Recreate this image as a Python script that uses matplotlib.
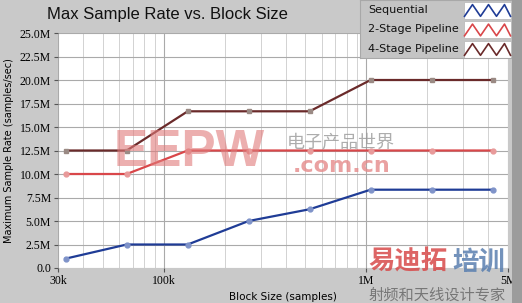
import matplotlib
matplotlib.use('Agg')
import matplotlib.pyplot as plt
from matplotlib.ticker import FixedLocator, FixedFormatter, NullFormatter
from matplotlib.patches import Rectangle

# block sizes (samples) and max rates (samples/sec)
block_sizes = [32768, 65536, 131072, 262144, 524288, 1048576, 2097152, 4194304]
sequential = [1.0e6, 2.5e6, 2.5e6, 5.0e6, 6.25e6, 8.33e6, 8.33e6, 8.33e6]
stage2 = [10.0e6, 10.0e6, 12.5e6, 12.5e6, 12.5e6, 12.5e6, 12.5e6, 12.5e6]
stage4 = [12.5e6, 12.5e6, 16.67e6, 16.67e6, 16.67e6, 20.0e6, 20.0e6, 20.0e6]
series_names = ['Sequential', '2-Stage Pipeline', '4-Stage Pipeline']

x_ticks = [30000, 100000, 1000000, 5000000]
x_labels = ['30k', '100k', '1M', '5M']
y_ticks = [i * 2.5e6 for i in range(11)]
y_labels = ['0.0'] + ['%.1fM' % (v / 1e6) for v in y_ticks[1:]]

fig = plt.figure(figsize=(5.22, 3.03), dpi=100)
fig.patch.set_facecolor('#c9c9c9')
# darker strip on the right edge
fig.patches.append(Rectangle((512 / 522, 0), 10 / 522, 1, transform=fig.transFigure,
                             facecolor='#9c9c9c', edgecolor='none', zorder=0))

ax = fig.add_axes([58 / 522, 1 - 268 / 303, 450 / 522, 235 / 303])
ax.set_facecolor('white')
ax.set_xscale('log')
ax.set_xlim(30000, 5000000)
ax.set_ylim(0, 25e6)

ax.xaxis.set_major_locator(FixedLocator(x_ticks))
ax.xaxis.set_major_formatter(FixedFormatter(x_labels))
ax.xaxis.set_minor_formatter(NullFormatter())
ax.yaxis.set_major_locator(FixedLocator(y_ticks))
ax.yaxis.set_major_formatter(FixedFormatter(y_labels))

ax.grid(which='major', color='#aaaaaa', linewidth=0.8)
ax.grid(which='minor', axis='x', color='#d2d2d2', linewidth=0.7)
ax.set_axisbelow(True)
for s in ax.spines.values():
    s.set_visible(False)
ax.tick_params(axis='both', which='major', labelsize=8.5, length=3, color='#555555', pad=2)
ax.tick_params(axis='x', which='minor', length=0)
for lab in ax.get_xticklabels() + ax.get_yticklabels():
    lab.set_fontfamily('Liberation Serif')

colors = ['#1f3c96', '#d9474a', '#6a2a2a']
mfc = ['#7f93c9', '#e89a9a', '#9a8a84']
markers = ['o', 'o', 's']
for vals, c, fc, m in zip([sequential, stage2, stage4], colors, mfc, markers):
    ax.plot(block_sizes, vals, color=c, linewidth=1.6, marker=m, markersize=3.5,
            markerfacecolor=fc, markeredgecolor=fc, zorder=3)

fig.text(47 / 522, 1 - 15 / 303, 'Max Sample Rate vs. Block Size', fontsize=12,
         family='Liberation Sans', va='center', ha='left', color='#111111')
ax.set_xlabel('Block Size (samples)', fontsize=7.5, family='DejaVu Sans', labelpad=4)
ax.set_ylabel('Maximum Sample Rate (samples/sec)', fontsize=7, family='DejaVu Sans', labelpad=4)

# legend box
lg = fig.add_axes([360 / 522, 1 - 58 / 303, 152 / 522, 58 / 303])
lg.set_xlim(0, 152)
lg.set_ylim(58, 0)
lg.set_facecolor('#c4c4c4')
for s in lg.spines.values():
    s.set_color('#a8a8a8')
lg.set_xticks([])
lg.set_yticks([])
zx = [0, 8, 16, 24, 32, 40, 46]
zy = [7, -6, 7, -6, 7, -6, 7]
for i, (name, c) in enumerate(zip(series_names, colors)):
    yc = 10 + i * 19.5
    lg.text(8, yc, name, fontsize=8, family='DejaVu Sans', va='center', ha='left', color='#111111')
    lg.add_patch(Rectangle((104, yc - 8.5), 47, 17, facecolor='white', edgecolor='#bbbbbb', lw=0.6))
    lg.plot([104.5 + x for x in zx], [yc + y * 0.9 for y in zy], color=c, linewidth=1.2)

# watermarks
fig.text(114 / 522, 1 - 153 / 303, 'EEPW', fontsize=37, fontweight='bold',
         color='#e07a7a', alpha=0.6, va='center', ha='left',
         family='Liberation Sans', zorder=2)
fig.text(287 / 522, 1 - 142 / 303, '电子产品世界', fontsize=13, color='#999999', alpha=0.8,
         va='center', ha='left', family=['Noto Sans CJK SC', 'DejaVu Sans'], zorder=2)
fig.text(293 / 522, 1 - 166 / 303, '.com.cn', fontsize=16, fontweight='bold', color='#e58a8a',
         alpha=0.8, va='center', ha='left', family='DejaVu Sans', zorder=2)
fig.text(368 / 522, 1 - 262 / 303, '易迪拓', fontsize=19, fontweight='bold', color='#d84a4a',
         alpha=0.85, va='center', ha='left', family=['Noto Sans CJK SC', 'DejaVu Sans'], zorder=5)
fig.text(452 / 522, 1 - 262 / 303, '培训', fontsize=19, fontweight='bold', color='#5a7fb0',
         alpha=0.85, va='center', ha='left', family=['Noto Sans CJK SC', 'DejaVu Sans'], zorder=5)
fig.text(369 / 522, 1 - 294.5 / 303, '射频和天线设计专家', fontsize=11, color='#777777',
         va='center', ha='left', family=['Noto Sans CJK SC', 'DejaVu Sans'], zorder=5)

fig.savefig('out.png', dpi=100, facecolor=fig.get_facecolor())
